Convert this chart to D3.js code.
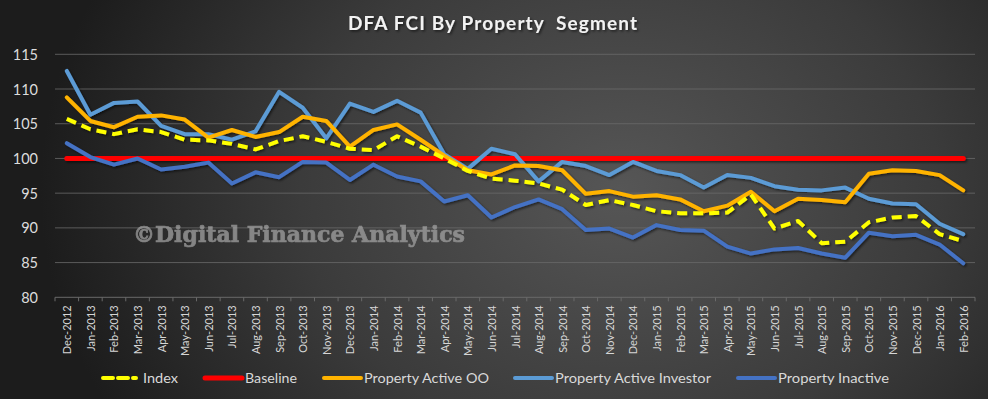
<!DOCTYPE html>
<html><head><meta charset="utf-8">
<script src="https://cdn.jsdelivr.net/npm/d3@7"></script>
<style>html,body{margin:0;padding:0;background:#222;}svg{display:block;}</style>
</head><body>
<svg id="chart" width="988" height="399"></svg>
<script>
const categories = ["Dec-2012","Jan-2013","Feb-2013","Mar-2013","Apr-2013","May-2013","Jun-2013","Jul-2013","Aug-2013","Sep-2013","Oct-2013","Nov-2013","Dec-2013","Jan-2014","Feb-2014","Mar-2014","Apr-2014","May-2014","Jun-2014","Jul-2014","Aug-2014","Sep-2014","Oct-2014","Nov-2014","Dec-2014","Jan-2015","Feb-2015","Mar-2015","Apr-2015","May-2015","Jun-2015","Jul-2015","Aug-2015","Sep-2015","Oct-2015","Nov-2015","Dec-2015","Jan-2016","Feb-2016"];
const indexValues    = [105.7,104.2,103.5,104.2,103.8,102.7,102.6,102.1,101.3,102.5,103.2,102.4,101.4,101.2,103.2,101.7,100.0,98.2,97.1,96.8,96.4,95.5,93.3,94.0,93.3,92.4,92.1,92.1,92.2,94.8,89.9,91.0,87.8,88.0,90.8,91.5,91.7,89.1,88.1];
const baseline       = categories.map(() => 100);
const activeOO       = [108.8,105.4,104.5,106.0,106.2,105.6,103.0,104.1,103.1,103.8,106.0,105.4,101.7,104.1,104.9,102.7,100.4,98.3,97.7,99.0,98.9,98.3,94.9,95.3,94.5,94.7,94.1,92.4,93.2,95.2,92.4,94.2,94.0,93.7,97.8,98.3,98.2,97.6,95.4];
const activeInvestor = [112.6,106.3,108.0,108.2,104.7,103.5,103.5,102.7,103.9,109.6,107.3,102.9,107.9,106.7,108.3,106.6,100.6,98.5,101.4,100.6,96.7,99.5,98.9,97.6,99.5,98.2,97.6,95.8,97.6,97.2,96.0,95.5,95.4,95.8,94.2,93.5,93.4,90.6,89.1];
const inactive       = [102.2,100.2,99.1,100.0,98.4,98.8,99.4,96.4,98.0,97.3,99.5,99.4,96.9,99.1,97.4,96.7,93.8,94.7,91.5,93.0,94.1,92.7,89.7,89.9,88.6,90.4,89.7,89.6,87.3,86.3,86.9,87.1,86.3,85.7,89.3,88.8,89.0,87.6,84.9];
const yTicks = [80,85,90,95,100,105,110,115];
const title = "DFA FCI By Property\u00a0 Segment";
const watermark = "\u00a9Digital Finance Analytics";

const series = [
  {name:"Index", values:indexValues, color:"#ffff00", width:4, dash:"10,6"},
  {name:"Baseline", values:baseline, color:"#ff0000", width:5, dash:null},
  {name:"Property Active OO", values:activeOO, color:"#ffb300", width:4, dash:null},
  {name:"Property Active Investor", values:activeInvestor, color:"#5b9bd5", width:4, dash:null},
  {name:"Property Inactive", values:inactive, color:"#4472c4", width:4, dash:null}
];
// legend layout (positions only)
const legendLayout = [
  {x:103, textW:35}, {x:205, textW:52}, {x:324, textW:125}, {x:515, textW:156}, {x:738, textW:111}
];
const drawOrder = [1,4,3,2,0];

const W = 988, H = 399;
const svg = d3.select("#chart");
const defs = svg.append("defs");
const rg = defs.append("radialGradient").attr("id","bg").attr("gradientUnits","userSpaceOnUse")
  .attr("cx",620).attr("cy",190).attr("r",580)
  .attr("gradientTransform","translate(620,190) scale(1,0.8) translate(-620,-190)");
rg.append("stop").attr("offset","0%").attr("stop-color","#565656");
rg.append("stop").attr("offset","55%").attr("stop-color","#3b3b3b");
rg.append("stop").attr("offset","100%").attr("stop-color","#1c1c1c");
const sh = defs.append("filter").attr("id","shadow").attr("x","-5%").attr("y","-5%").attr("width","110%").attr("height","120%");
sh.append("feDropShadow").attr("dx",1.5).attr("dy",1.5).attr("stdDeviation",1.2).attr("flood-color","#000").attr("flood-opacity",0.55);

svg.append("rect").attr("width",W).attr("height",H).attr("fill","url(#bg)");

const x0 = 55, x1 = 975, yTop = 54.3, yBot = 297.3;
const x = d3.scalePoint().domain(categories).range([x0, x1]).padding(0.5);
const y = d3.scaleLinear().domain([80,115]).range([yBot, yTop]);

// gridlines
svg.append("g").selectAll("line").data(yTicks.filter(t => t !== 80)).join("line")
  .attr("x1",x0).attr("x2",x1).attr("y1",d=>y(d)).attr("y2",d=>y(d))
  .attr("stroke","#6a6a6a").attr("stroke-width",1).attr("opacity",0.8);

// y axis labels
const yAxis = d3.axisLeft(y).tickValues(yTicks).tickSize(0).tickPadding(0);
const gy = svg.append("g").attr("transform",`translate(38,0)`).call(yAxis);
gy.select(".domain").remove();
gy.selectAll("text").attr("fill","#dcdcdc").attr("font-family","Lato, 'Open Sans', sans-serif").attr("font-size",14.5).attr("dy","0.35em");

// x axis
const step = x.step();
const gx = svg.append("g").attr("transform",`translate(0,${yBot})`);
gx.append("line").attr("x1",x0).attr("x2",x1).attr("stroke","#6a6a6a").attr("stroke-width",1);
gx.selectAll("line.tk").data(d3.range(categories.length+1)).join("line").attr("class","tk")
  .attr("x1",i=>x0+i*step).attr("x2",i=>x0+i*step).attr("y1",0).attr("y2",4)
  .attr("stroke","#6a6a6a").attr("stroke-width",1);
const xAxis = d3.axisBottom(x).tickSize(0).tickPadding(0);
const gxa = svg.append("g").attr("transform",`translate(0,${yBot})`).call(xAxis);
gxa.select(".domain").remove();
gxa.selectAll("text")
  .attr("fill","#d6d6d6").attr("font-family","Lato, 'Open Sans', sans-serif").attr("font-size",11)
  .attr("text-anchor","end").attr("dy",null).attr("y",0)
  .attr("transform","translate(4,8) rotate(-90)");

// watermark
svg.append("text").attr("x",133).attr("y",242).text(watermark)
  .attr("font-family","'DejaVu Serif', serif").attr("font-weight","bold").attr("font-size",23)
  .attr("textLength",332).attr("lengthAdjust","spacingAndGlyphs")
  .attr("fill","#a6a6a6").attr("stroke","#a6a6a6").attr("stroke-width",0.7).attr("opacity",0.72);

// lines
const line = d3.line().x((d,i)=>x(categories[i])).y(d=>y(d));
const gl = svg.append("g").attr("filter","url(#shadow)");
drawOrder.forEach(k => {
  const s = series[k];
  gl.append("path").datum(s.values).attr("d",line)
    .attr("fill","none").attr("stroke",s.color).attr("stroke-width",s.width)
    .attr("stroke-linejoin","round").attr("stroke-linecap", s.dash ? "butt" : "round")
    .attr("stroke-dasharray",s.dash);
});

// title
svg.append("text").attr("x",348).attr("y",30).text(title)
  .attr("font-family","Lato, 'Open Sans', sans-serif").attr("font-weight","bold").attr("font-size",19)
  .attr("textLength",289).attr("lengthAdjust","spacing")
  .attr("fill","#f2f2f2").attr("filter","url(#shadow)");

// legend
const lg = svg.append("g").attr("transform","translate(0,378)");
series.forEach((s,i) => {
  const L = legendLayout[i];
  const g = lg.append("g").attr("transform",`translate(${L.x},0)`);
  if (s.dash) {
    g.append("line").attr("x1",0).attr("x2",36).attr("y1",0).attr("y2",0)
      .attr("stroke",s.color).attr("stroke-width",4).attr("stroke-dasharray","10,5,10,5,3,20").attr("stroke-linecap","round");
  } else {
    g.append("line").attr("x1",0).attr("x2",37).attr("y1",0).attr("y2",0)
      .attr("stroke",s.color).attr("stroke-width",s.name==="Baseline"?5:4).attr("stroke-linecap","round");
  }
  g.append("text").attr("x",40).attr("y",0).attr("dy","0.35em").text(s.name)
    .attr("fill","#d9d9d9").attr("font-family","Lato, 'Open Sans', sans-serif").attr("font-size",14)
    .attr("textLength",L.textW).attr("lengthAdjust","spacingAndGlyphs");
});
</script>
</body></html>
